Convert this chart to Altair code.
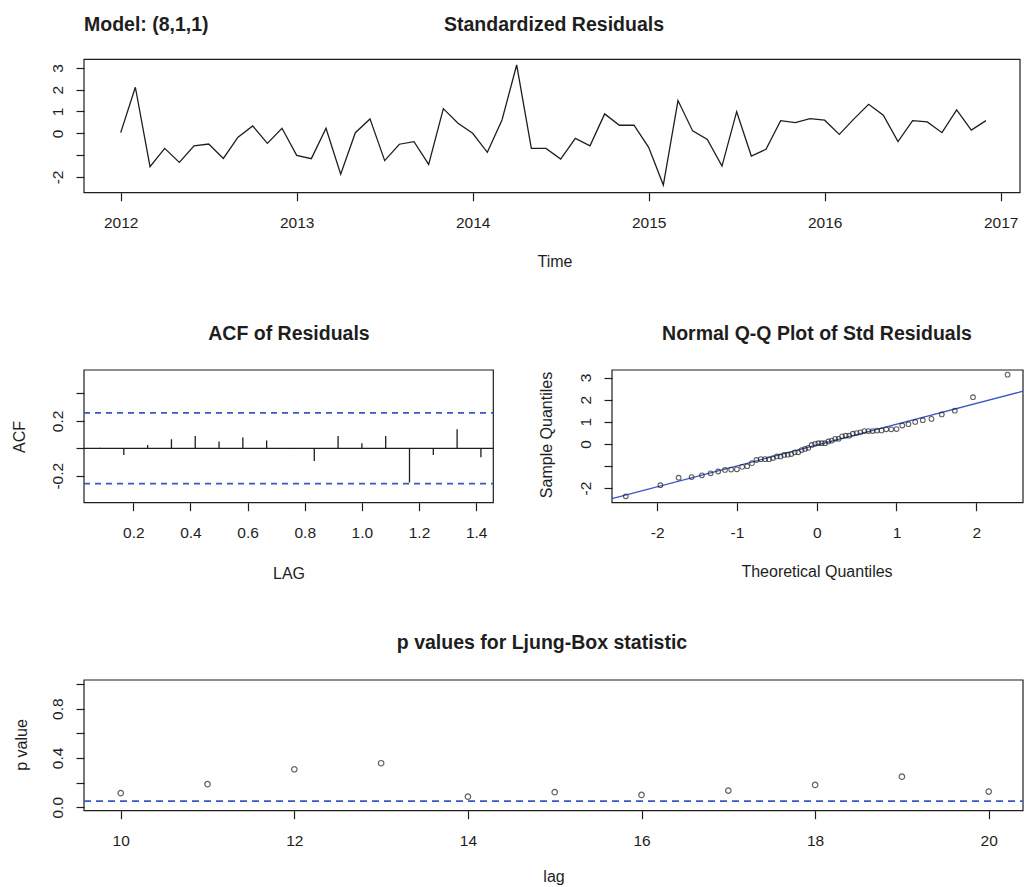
import statistics
import altair as alt
import numpy as np
import pandas as pd

# ---------------- data ----------------
resid = [0.03, 2.11, -1.53, -0.69, -1.33, -0.57, -0.49, -1.15, -0.18, 0.34,
         -0.46, 0.23, -1.01, -1.16, 0.23, -1.87, 0.03, 0.66, -1.25, -0.50,
         -0.38, -1.42, 1.13, 0.46, 0.00, -0.87, 0.61, 3.13, -0.69, -0.69,
         -1.18, -0.23, -0.57, 0.89, 0.37, 0.37, -0.64, -2.37, 1.50, 0.11,
         -0.28, -1.50, 0.99, -1.04, -0.73, 0.58, 0.49, 0.67, 0.60, -0.05,
         0.66, 1.33, 0.83, -0.38, 0.58, 0.52, 0.03, 1.07, 0.15, 0.58]
start_year = 2012
year_ticks = [2012, 2013, 2014, 2015, 2016, 2017]

acf_months = list(range(1, 18))
acf_vals = [0.004, -0.049, 0.024, 0.066, 0.090, 0.049, 0.078, 0.056, -0.006,
            -0.092, 0.090, 0.036, 0.090, -0.250, -0.049, 0.139, -0.066]
acf_limits = [0.258, -0.258]

lb_lags = list(range(10, 21))
lb_p = [0.114, 0.187, 0.308, 0.357, 0.086, 0.122, 0.100, 0.135, 0.181, 0.248, 0.127]
lb_level = [0.05]

# ---------------- layout / style ----------------
W, H = 1024, 887
FONT = "Liberation Sans"
INK = "#1e1e1e"
BLUE = "#3a57c4"
TICK_FS = 15.5
TITLE_FS = 19.5
AXT_FS = 16


def lbl_expr(hide=None):
    base = "replace(datum.label, '\u2212', '-')"
    if hide:
        return f"({hide}) ? '' : {base}"
    return base


def bottom_axis(vals, ypx, fmt, hide=None):
    return alt.Axis(orient="bottom", offset=ypx - H, values=vals, format=fmt,
                    labelExpr=lbl_expr(hide), title=None, domain=False, grid=False,
                    tickSize=8, tickWidth=1.2, tickColor=INK, labelFont=FONT,
                    labelFontSize=TICK_FS, labelColor=INK, labelPadding=22,
                    labelBaseline="middle", labelAlign="center", labelAngle=0,
                    labelFlush=False, labelOverlap=False)


def left_axis(vals, xpx, fmt, hide=None):
    return alt.Axis(orient="left", offset=-xpx, values=vals, format=fmt,
                    labelExpr=lbl_expr(hide), title=None, domain=False, grid=False,
                    tickSize=8, tickWidth=1.2, tickColor=INK, labelFont=FONT,
                    labelFontSize=TICK_FS, labelColor=INK, labelPadding=19,
                    labelBaseline="middle", labelAlign="center", labelAngle=270,
                    labelFlush=False, labelOverlap=False)


def scale(domain, rng):
    return alt.Scale(domain=domain, range=rng, nice=False, zero=False)


def frame(xs, ys, ax, ay, xd, yd):
    return alt.Chart(alt.Data(values=[{"f": 1}])).mark_rect(
        fillOpacity=0, stroke=INK, strokeWidth=1.2).encode(
        x=alt.XDatum(xd[0], type="quantitative", scale=xs, axis=ax),
        x2=alt.X2Datum(xd[1]),
        y=alt.YDatum(yd[0], type="quantitative", scale=ys, axis=ay),
        y2=alt.Y2Datum(yd[1]))


def text(txt, x, y, size, bold=False, angle=0, align="center", baseline="alphabetic"):
    return alt.Chart(alt.Data(values=[{"label": txt}])).mark_text(
        align=align, baseline=baseline, angle=angle, font=FONT, fontSize=size,
        fontWeight="bold" if bold else "normal", color=INK).encode(
        x=alt.value(x), y=alt.value(y), text="label:N")


# ---------------- panel 1: standardized residuals ----------------
TX_D, TX_R = [2011.7915, 2017.11], [84, 1020]
TY_D, TY_R = [-2.72, 3.39], [192.7, 59.3]
xs1, ys1 = scale(TX_D, TX_R), scale(TY_D, TY_R)
ax1 = bottom_axis(year_ticks, TY_R[0], "d")
ay1 = left_axis([-2, -1, 0, 1, 2, 3], TX_R[0], "d", "datum.value == -1")
ts_df = pd.DataFrame({"t": [start_year + i / 12 for i in range(len(resid))], "r": resid})
p1 = alt.layer(
    frame(xs1, ys1, ax1, ay1, TX_D, TY_D),
    alt.Chart(ts_df).mark_line(color=INK, strokeWidth=1.3).encode(
        x=alt.X("t:Q", scale=xs1, axis=ax1),
        y=alt.Y("r:Q", scale=ys1, axis=ay1)),
)

# ---------------- panel 2: ACF ----------------
AX_D, AX_R = [0.0273, 1.460], [84, 493.3]
AY_D, AY_R = [-0.397, 0.571], [502.7, 370]
xs2, ys2 = scale(AX_D, AX_R), scale(AY_D, AY_R)
ax2 = bottom_axis([0.2, 0.4, 0.6, 0.8, 1.0, 1.2, 1.4], AY_R[0], ".1f")
ay2 = left_axis([-0.2, 0, 0.2, 0.4], AX_R[0], ".1f",
                "abs(datum.value) < 0.01 || datum.value > 0.3")
acf_df = pd.DataFrame({"lag": [k / 12 for k in acf_months], "acf": acf_vals})
p2 = alt.layer(
    frame(xs2, ys2, ax2, ay2, AX_D, AY_D),
    alt.Chart(pd.DataFrame({"b": acf_limits})).mark_rule(
        color=BLUE, strokeDash=[6, 5], strokeWidth=1.6).encode(
        x=alt.XDatum(AX_D[0], type="quantitative", scale=xs2, axis=ax2),
        x2=alt.X2Datum(AX_D[1]),
        y=alt.Y("b:Q", scale=ys2, axis=ay2)),
    alt.Chart(alt.Data(values=[{"z": 0}])).mark_rule(color=INK, strokeWidth=1.2).encode(
        x=alt.XDatum(AX_D[0], type="quantitative", scale=xs2, axis=ax2),
        x2=alt.X2Datum(AX_D[1]),
        y=alt.Y("z:Q", scale=ys2, axis=ay2)),
    alt.Chart(acf_df).mark_rule(color=INK, strokeWidth=1.3).encode(
        x=alt.X("lag:Q", scale=xs2, axis=ax2),
        y=alt.Y("acf:Q", scale=ys2, axis=ay2),
        y2=alt.Y2Datum(0)),
)

# ---------------- panel 3: normal Q-Q ----------------
QX_D, QX_R = [-2.567, 2.587], [612, 1023]
QY_D, QY_R = [-2.66, 3.34], [502.7, 370]
xs3, ys3 = scale(QX_D, QX_R), scale(QY_D, QY_R)
ax3 = bottom_axis([-2, -1, 0, 1, 2], QY_R[0], "d")
ay3 = left_axis([-2, -1, 0, 1, 2, 3], QX_R[0], "d", "datum.value == -1")
q1, q3 = np.quantile(resid, [0.25, 0.75])
zq = statistics.NormalDist().inv_cdf(0.75)
slope = (q3 - q1) / (2 * zq)
intercept = q1 + slope * zq
qq_line_df = pd.DataFrame({"theo": QX_D, "r": [intercept + slope * v for v in QX_D]})
p3 = alt.layer(
    frame(xs3, ys3, ax3, ay3, QX_D, QY_D),
    alt.Chart(qq_line_df).mark_line(color=BLUE, strokeWidth=1.3).encode(
        x=alt.X("theo:Q", scale=xs3, axis=ax3),
        y=alt.Y("r:Q", scale=ys3, axis=ay3)),
    alt.Chart(pd.DataFrame({"r": resid}))
    .transform_joinaggregate(n="count()")
    .transform_window(rank="row_number()", sort=[alt.SortField("r", order="ascending")])
    .transform_calculate(theo="quantileNormal((datum.rank - 0.5) / datum.n)")
    .mark_point(shape="circle", filled=False, size=22, strokeWidth=1.1, color=INK)
    .encode(x=alt.X("theo:Q", scale=xs3, axis=ax3),
            y=alt.Y("r:Q", scale=ys3, axis=ay3)),
)

# ---------------- panel 4: Ljung-Box p values ----------------
LX_D, LX_R = [9.577, 20.395], [84, 1023]
LY_D, LY_R = [-0.028, 1.032], [810.7, 680]
xs4, ys4 = scale(LX_D, LX_R), scale(LY_D, LY_R)
ax4 = bottom_axis([10, 12, 14, 16, 18, 20], LY_R[0], "d")
ay4 = left_axis([0, 0.2, 0.4, 0.6, 0.8, 1.0], LX_R[0], ".1f",
                "abs(datum.value - 0.2) < 0.01 || abs(datum.value - 0.6) < 0.01 || datum.value > 0.9")
lb_df = pd.DataFrame({"lag": lb_lags, "p": lb_p})
p4 = alt.layer(
    frame(xs4, ys4, ax4, ay4, LX_D, LY_D),
    alt.Chart(pd.DataFrame({"lvl": lb_level})).mark_rule(
        color=BLUE, strokeDash=[7, 5], strokeWidth=1.6).encode(
        x=alt.XDatum(LX_D[0], type="quantitative", scale=xs4, axis=ax4),
        x2=alt.X2Datum(LX_D[1]),
        y=alt.Y("lvl:Q", scale=ys4, axis=ay4)),
    alt.Chart(lb_df).mark_point(shape="circle", filled=False, size=30,
                                strokeWidth=1.2, color=INK).encode(
        x=alt.X("lag:Q", scale=xs4, axis=ax4),
        y=alt.Y("p:Q", scale=ys4, axis=ay4)),
)

# ---------------- titles and axis titles ----------------
texts = [
    text("Model: (8,1,1)", 84, 30.5, TITLE_FS, bold=True, align="left"),
    text("Standardized Residuals", 554, 30.5, TITLE_FS, bold=True),
    text("Time", 555, 267, AXT_FS),
    text("ACF of Residuals", 289, 340, TITLE_FS, bold=True),
    text("Normal Q-Q Plot of Std Residuals", 817, 340, TITLE_FS, bold=True),
    text("LAG", 289, 579, AXT_FS),
    text("Theoretical Quantiles", 817, 577, AXT_FS),
    text("ACF", 20, 437, AXT_FS, angle=270, baseline="middle"),
    text("Sample Quantiles", 547, 435, AXT_FS, angle=270, baseline="middle"),
    text("p values for Ljung-Box statistic", 542, 649, TITLE_FS, bold=True),
    text("lag", 554, 882, AXT_FS),
    text("p value", 22, 745, AXT_FS, angle=270, baseline="middle"),
]

chart = (
    alt.layer(p1, p2, p3, p4, *texts)
    .resolve_scale(x="independent", y="independent")
    .resolve_axis(x="independent", y="independent")
    .properties(width=W, height=H, padding=0,
                autosize=alt.AutoSizeParams(type="none"), background="white")
    .configure_view(stroke=None)
)

chart.save("out.html", embed_options={"renderer": "svg", "actions": False})
